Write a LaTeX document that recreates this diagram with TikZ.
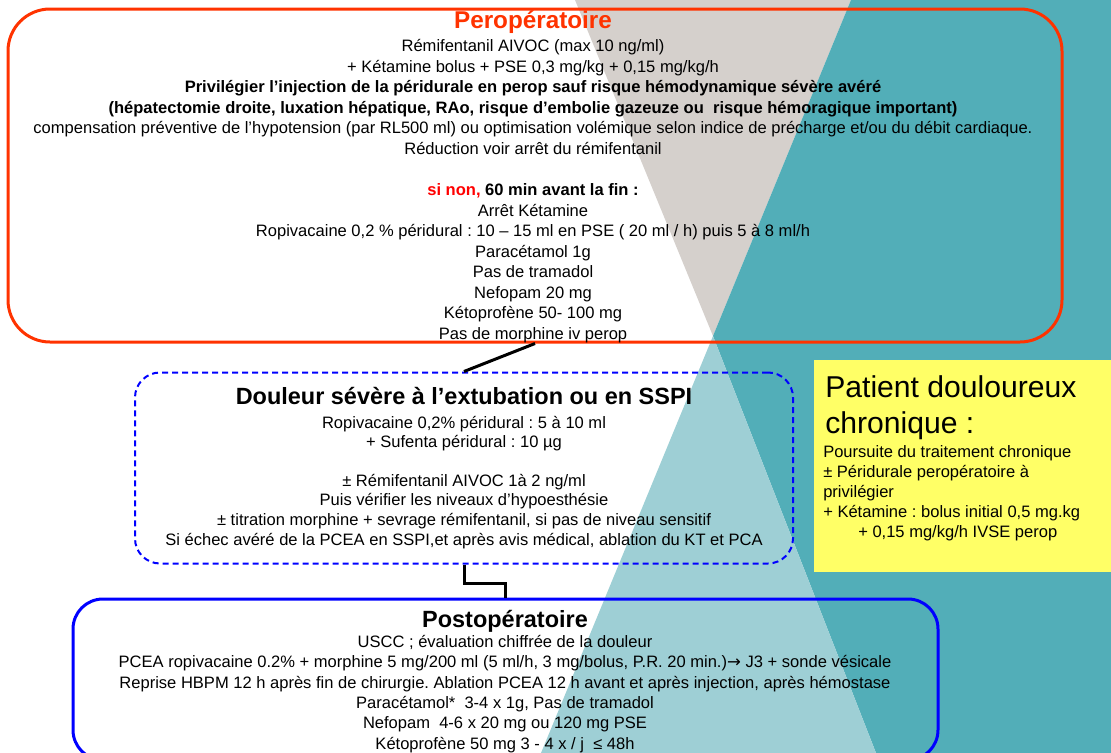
\documentclass[tikz,border=0pt]{standalone}
\usepackage{fontspec}
\setmainfont{Liberation Sans}
\newfontfamily\arrowfont{DejaVu Sans}
\frenchspacing
\definecolor{orx}{HTML}{FF3300}
\definecolor{greyx}{HTML}{D5D0CC}
\definecolor{tealx}{HTML}{52AEB8}
\definecolor{paletealx}{HTML}{9ECFD5}
\definecolor{yelx}{HTML}{FFFF66}
\colorlet{blux}{blue}
\tikzset{
    linetxt/.style={anchor=base,inner sep=0pt,font=\fontsize{12.4}{15}\selectfont},
    headtxt/.style={anchor=base,inner sep=0pt,font=\bfseries\fontsize{17.6}{21}\selectfont},
    perobox/.style={draw=orx,line width=2.25pt,rounded corners=31.5pt,inner sep=0pt,minimum width=790.5pt,minimum height=249.75pt},
    sspibox/.style={draw=blux,line width=1.5pt,dash pattern=on 4.5pt off 3pt,rounded corners=18.75pt,inner sep=0pt,minimum width=493.5pt,minimum height=143.25pt},
    postbox/.style={draw=blux,line width=2.25pt,rounded corners=22.5pt,inner sep=0pt,minimum width=648.75pt,minimum height=120.75pt},
    chronbox/.style={fill=yelx,inner sep=0pt,minimum width=225pt,minimum height=159pt},
    link/.style={black,line width=2.25pt}
}
\begin{document}
\begin{tikzpicture}[x=0.75pt,y=-0.75pt]
    \useasboundingbox (0,0) rectangle (1111,753);
    \fill[greyx] (575,0) -- (851,0) -- (713,336) -- cycle;
    \fill[tealx] (851,0) -- (1111,0) -- (1111,753) -- (876,753) -- (713,336) -- cycle;
    \fill[paletealx] (713,336) -- (876,753) -- (541,753) -- cycle;

    \node[perobox] (pero) at (535,175.5) {};
    \node[sspibox] (sspi) at (464,468) {};
    \node[postbox] (post) at (505.5,679.5) {};
    \node[chronbox] (chron) at (964,466) {};

    \draw[link] (pero.south) -- (sspi.north);
    \draw[link] (sspi.south) -- ++(0,18.5) -| (post.north);

    \node[headtxt,orx,font=\bfseries\fontsize{18.2}{21}\selectfont] (perohead) at (533,28) {Peropératoire};
    \foreach \y/\t [count=\i] in {
        51.5/{Rémifentanil AIVOC (max 10 ng/ml)},
        72.1/{+ Kétamine bolus + PSE 0,3 mg/kg + 0,15 mg/kg/h},
        92.6/{\bfseries Privilégier l’injection de la péridurale en perop sauf risque hémodynamique sévère avéré},
        113.2/{\bfseries (hépatectomie droite, luxation hépatique, RAo, risque d’embolie gazeuze ou \ risque hémoragique important)},
        133.8/{compensation préventive de l’hypotension (par RL500 ml) ou optimisation volémique selon indice de précharge et/ou du débit cardiaque.},
        154.4/{Réduction voir arrêt du rémifentanil},
        195.5/{\bfseries\textcolor{red}{si non,} 60 min avant la fin :},
        216.1/{Arrêt Kétamine},
        236.7/{Ropivacaine 0,2 \% péridural : 10 – 15 ml en PSE ( 20 ml / h) puis 5 à 8 ml/h},
        257.2/{Paracétamol 1g},
        277.8/{Pas de tramadol},
        298.4/{Nefopam 20 mg},
        318.9/{Kétoprofène 50- 100 mg},
        339.5/{Pas de morphine iv perop}} {
        \node[linetxt] (pero\i) at (533,\y) {\t};
    }

    \node[headtxt] (sspihead) at (464,404) {Douleur sévère à l’extubation ou en SSPI};
    \foreach \y/\t [count=\i] in {
        428.5/{Ropivacaine 0,2\% péridural : 5 à 10 ml},
        447.5/{+ Sufenta péridural : 10 µg},
        486.5/{± Rémifentanil AIVOC 1à 2 ng/ml},
        505.5/{Puis vérifier les niveaux d’hypoesthésie},
        525.5/{± titration morphine + sevrage rémifentanil, si pas de niveau sensitif},
        545.5/{Si échec avéré de la PCEA en SSPI,et après avis médical, ablation du KT et PCA}} {
        \node[linetxt] (sspi\i) at (464,\y) {\t};
    }

    \node[headtxt] (posthead) at (505,627) {Postopératoire};
    \foreach \y/\t [count=\i] in {
        647.5/{USCC ; évaluation chiffrée de la douleur},
        667.5/{PCEA ropivacaine 0.2\% + morphine 5 mg/200 ml (5 ml/h, 3 mg/bolus, P.R. 20 min.){\arrowfont →} J3 + sonde vésicale},
        688.5/{Reprise HBPM 12 h après fin de chirurgie. Ablation PCEA 12 h avant et après injection, après hémostase},
        708.5/{Paracétamol* \ 3-4 x 1g, Pas de tramadol},
        728.5/{Nefopam \ 4-6 x 20 mg ou 120 mg PSE},
        749.5/{Kétoprofène 50 mg 3 - 4 x / j \ ≤ 48h}} {
        \node[linetxt] (post\i) at (505,\y) {\t};
    }

    \node[linetxt,anchor=base west,font=\fontsize{22.6}{26}\selectfont] (chronhead1) at (825,397) {Patient douloureux};
    \node[linetxt,anchor=base west,font=\fontsize{22.6}{26}\selectfont] (chronhead2) at (825,433) {chronique :};
    \foreach \x/\y/\t [count=\i] in {
        823/457.5/{Poursuite du traitement chronique},
        823/477.5/{± Péridurale peropératoire à},
        823/497.5/{privilégier},
        823/517.5/{+ Kétamine : bolus initial 0,5 mg.kg},
        858/537.5/{+ 0,15 mg/kg/h IVSE perop}} {
        \node[linetxt,anchor=base west] (chron\i) at (\x,\y) {\t};
    }
\end{tikzpicture}
\end{document}
